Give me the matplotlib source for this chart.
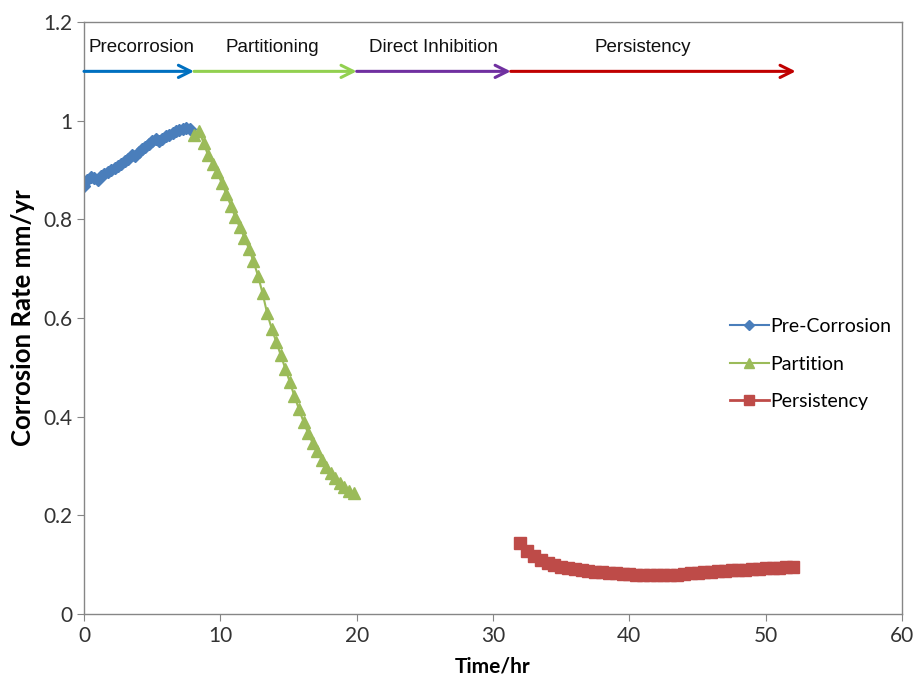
import matplotlib
matplotlib.use('Agg')
import matplotlib.pyplot as plt

# ---- data ----
pre_t = [0.0, 0.25, 0.5, 0.75, 1.0, 1.25, 1.5, 1.75, 2.0, 2.25, 2.5, 2.75, 3.0, 3.25, 3.5, 3.75,
         4.0, 4.25, 4.5, 4.75, 5.0, 5.25, 5.5, 5.75, 6.0, 6.25, 6.5, 6.75, 7.0, 7.25, 7.5, 7.75]
pre_cr = [0.868, 0.880, 0.885, 0.884, 0.880, 0.887, 0.892, 0.897, 0.901, 0.905, 0.908, 0.912,
          0.918, 0.922, 0.930, 0.928, 0.936, 0.942, 0.947, 0.953, 0.958, 0.962, 0.958, 0.963,
          0.969, 0.972, 0.976, 0.979, 0.982, 0.984, 0.985, 0.983]

part_t = [8.1, 8.43, 8.77, 9.1, 9.43, 9.77, 10.1, 10.43, 10.77, 11.1, 11.43, 11.77, 12.1, 12.43,
          12.77, 13.1, 13.43, 13.77, 14.1, 14.43, 14.77, 15.1, 15.43, 15.77, 16.1, 16.43, 16.77,
          17.1, 17.43, 17.77, 18.1, 18.43, 18.77, 19.1, 19.43, 19.77]
part_cr = [0.970, 0.980, 0.955, 0.930, 0.913, 0.895, 0.874, 0.852, 0.828, 0.804, 0.784, 0.763,
           0.740, 0.715, 0.685, 0.650, 0.610, 0.578, 0.552, 0.525, 0.497, 0.470, 0.442, 0.415,
           0.390, 0.367, 0.347, 0.330, 0.313, 0.298, 0.286, 0.275, 0.265, 0.257, 0.250, 0.246]

pers_t = [32.0, 32.5, 33.0, 33.5, 34.0, 34.5, 35.0, 35.5, 36.0, 36.5, 37.0, 37.5, 38.0, 38.5,
          39.0, 39.5, 40.0, 40.5, 41.0, 41.5, 42.0, 42.5, 43.0, 43.5, 44.0, 44.5, 45.0, 45.5,
          46.0, 46.5, 47.0, 47.5, 48.0, 48.5, 49.0, 49.5, 50.0, 50.5, 51.0, 51.5, 52.0]
pers_cr = [0.143, 0.128, 0.118, 0.110, 0.104, 0.099, 0.096, 0.093, 0.091, 0.089, 0.087, 0.086,
           0.085, 0.084, 0.083, 0.082, 0.081, 0.080, 0.080, 0.079, 0.079, 0.079, 0.079, 0.080,
           0.081, 0.083, 0.084, 0.085, 0.086, 0.087, 0.088, 0.089, 0.090, 0.090, 0.091, 0.092,
           0.093, 0.093, 0.094, 0.095, 0.095]

# stages shown as arrows along the top
stage_names = ['Precorrosion', 'Partitioning', 'Direct Inhibition', 'Persistency']
stage_bounds = [0, 8.07, 20.0, 31.3, 52.2]
stage_text_x = [4.2, 13.8, 25.6, 41.0]
stage_colors = ['#0070C0', '#92D050', '#7030A0', '#C00000']

fig = plt.figure(figsize=(9.14, 6.84), dpi=100)
ax = fig.add_axes([0.0919, 0.1023, 0.895, 0.8655])

ax.plot(pre_t, pre_cr, color='#4A7EBB', marker='D', markersize=6.5, lw=1.5, label='Pre-Corrosion')
ax.plot(part_t, part_cr, color='#9BBB59', marker='^', markersize=8.5, lw=1.5, label='Partition')
ax.plot(pers_t, pers_cr, color='#BE4B48', marker='s', markersize=8.5, lw=2, label='Persistency')

for i in range(len(stage_names)):
    ax.annotate('', xy=(stage_bounds[i + 1], 1.1), xytext=(stage_bounds[i], 1.1),
                arrowprops=dict(arrowstyle='->', color=stage_colors[i], lw=2.2,
                                mutation_scale=22, shrinkA=0, shrinkB=0))
    ax.text(stage_text_x[i], 1.148, stage_names[i], ha='center', va='center',
            fontsize=13.5, family='Liberation Sans', color='#111111')

ax.set_xlim(0, 60)
ax.set_ylim(0, 1.2)
ax.set_xticks([0, 10, 20, 30, 40, 50, 60])
ax.set_yticks([0, 0.2, 0.4, 0.6, 0.8, 1.0, 1.2])
ax.set_yticklabels(['0', '0.2', '0.4', '0.6', '0.8', '1', '1.2'])
for s in ax.spines.values():
    s.set_color('#868686')
    s.set_linewidth(1)
ax.tick_params(direction='out', length=5, color='#868686', labelsize=15, labelcolor='#333333')
for lab in ax.get_xticklabels() + ax.get_yticklabels():
    lab.set_family('Lato')

ax.set_xlabel('Time/hr', fontsize=15, fontweight='bold', family='Lato', labelpad=8)
ax.set_ylabel('Corrosion Rate mm/yr', fontsize=18.5, fontweight='bold', family='Lato', labelpad=6)

ax.legend(loc='center left', bbox_to_anchor=(0.78, 0.422), frameon=False,
          prop={'family': 'Lato', 'size': 14}, handlelength=2.0, handletextpad=0.1,
          labelspacing=1.05, borderaxespad=0, markerscale=0.8)

fig.savefig('out.png', dpi=100)
